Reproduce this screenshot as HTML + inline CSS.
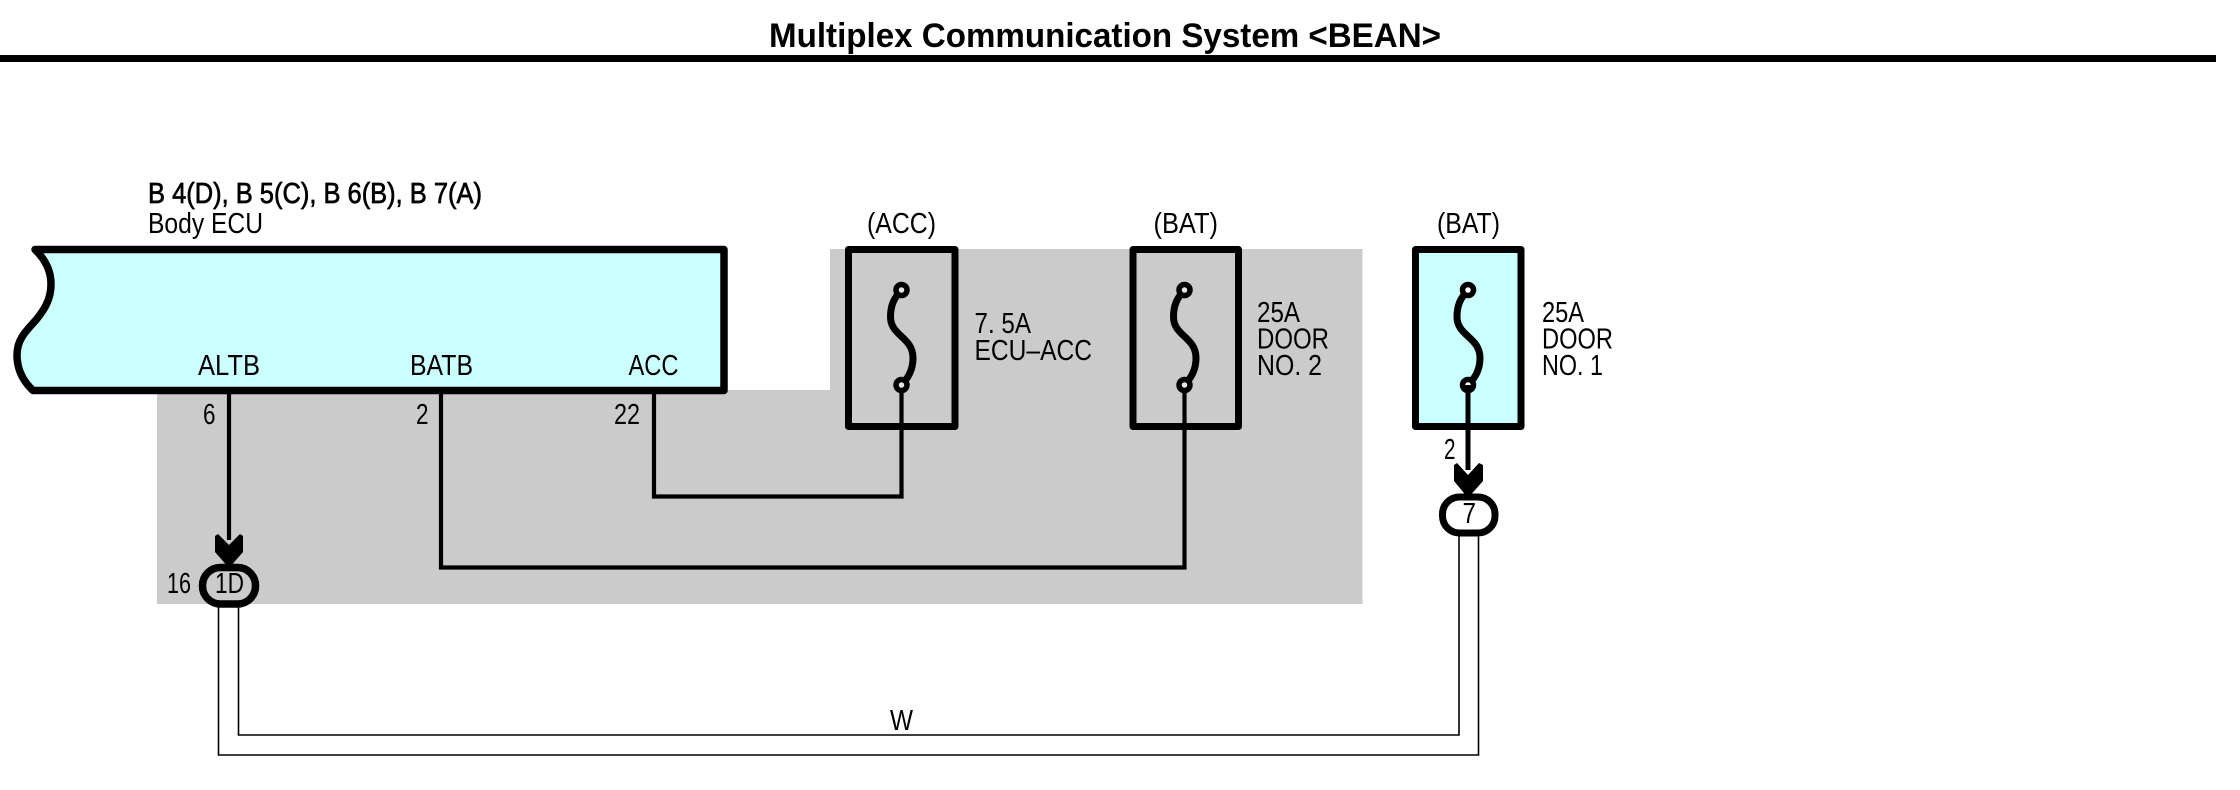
<!DOCTYPE html>
<html><head><meta charset="utf-8"><style>
html,body{margin:0;padding:0;background:#fff;width:2240px;height:790px;overflow:hidden}
svg{display:block}
text{font-family:"Liberation Sans",sans-serif;font-size:29px;fill:#000}
</style></head><body>
<svg width="2240" height="790" viewBox="0 0 2240 790" xmlns="http://www.w3.org/2000/svg">
<rect width="2240" height="790" fill="#fff"/>
<rect x="0" y="55" width="2216" height="7" fill="#000"/>
<text x="769" y="47" style="font-size:34px;font-weight:bold" textLength="672" lengthAdjust="spacingAndGlyphs">Multiplex Communication System &lt;BEAN&gt;</text>

<polygon points="157,390 830,390 830,249 1362.500,249 1362.500,604 157,604" fill="#cbcbcb"/>

<!-- double wire -->
<path d="M238.500 600V735H1459V530M218.500 600V755H1478.500V530" fill="none" stroke="#000" stroke-width="1.600"/>

<!-- ECU -->
<path d="M35 249.500Q51 265 51 284C51 300 44 310 36 320C25 332 17 340 17 355C17 370 24 382 33 390.500H724V249.500Z" fill="#ccffff" stroke="#000" stroke-width="7.500" stroke-linejoin="round"/>

<!-- wires -->
<g fill="none" stroke="#000" stroke-width="4.200">
<path d="M229 392V540"/>
<path d="M441 392V567.500H1184.500V385"/>
<path d="M654 392V496.500H901.500V385"/>
</g>

<!-- fuse boxes -->
<rect x="848.500" y="249.500" width="106.500" height="177" fill="none" stroke="#000" stroke-width="7" stroke-linejoin="round"/>
<rect x="1133" y="249.500" width="105.500" height="177" fill="none" stroke="#000" stroke-width="7" stroke-linejoin="round"/>
<rect x="1415.500" y="249.500" width="105.500" height="177" fill="#ccffff" stroke="#000" stroke-width="7" stroke-linejoin="round"/>

<!-- fuse symbols -->
<g fill="none" stroke="#000" stroke-width="7">
<path d="M901.500 290C894 298 890.500 305 890.500 317C890.500 336 913 337 913 358C913 370 908 378 901.500 385"/>
<path d="M1184.500 290C1177 298 1173.500 305 1173.500 317C1173.500 336 1196 337 1196 358C1196 370 1191 378 1184.500 385"/>
<path d="M1468 290C1460.500 298 1457 305 1457 317C1457 336 1480 337 1480 358C1480 370 1475 378 1468 385"/>
</g>
<g stroke="#000" stroke-width="5.500">
<circle cx="901.500" cy="290" r="5.500" fill="#e6e6e6"/>
<circle cx="901.500" cy="385" r="5.500" fill="#e6e6e6"/>
<circle cx="1184.500" cy="290" r="5.500" fill="#e6e6e6"/>
<circle cx="1184.500" cy="385" r="5.500" fill="#e6e6e6"/>
<circle cx="1468" cy="290" r="5.500" fill="#fff"/>
<circle cx="1468" cy="385" r="5.500" fill="#fff"/>
</g>
<path d="M1468 385V470" stroke="#000" stroke-width="5"/>

<!-- arrows -->
<polygon points="215,536 218,534 229,545 240,534 243,536 243,552 229,568 215,552" fill="#000"/>
<polygon points="1454,465 1457,463 1468,475 1479,463 1483,465 1483,481 1468,498 1454,481" fill="#000"/>

<!-- connectors -->
<rect x="202.500" y="567.500" width="53" height="36.500" rx="18" fill="#cbcbcb" stroke="#000" stroke-width="7.500"/>
<rect x="1442.500" y="497" width="52.500" height="36" rx="17" fill="#fff" stroke="#000" stroke-width="7"/>

<!-- labels -->
<text x="148" y="203" textLength="334" lengthAdjust="spacingAndGlyphs" stroke="#000" stroke-width="0.700">B 4(D), B 5(C), B 6(B), B 7(A)</text>
<text x="148" y="233" textLength="115" lengthAdjust="spacingAndGlyphs">Body ECU</text>
<text x="198" y="375" textLength="62" lengthAdjust="spacingAndGlyphs">ALTB</text>
<text x="410" y="375" textLength="63" lengthAdjust="spacingAndGlyphs">BATB</text>
<text x="628.500" y="375" textLength="50" lengthAdjust="spacingAndGlyphs">ACC</text>
<text x="203" y="424" textLength="12.500" lengthAdjust="spacingAndGlyphs">6</text>
<text x="416" y="424" textLength="12.500" lengthAdjust="spacingAndGlyphs">2</text>
<text x="614" y="424" textLength="26" lengthAdjust="spacingAndGlyphs">22</text>
<text x="167" y="593" textLength="24" lengthAdjust="spacingAndGlyphs">16</text>
<text x="215" y="593" textLength="29" lengthAdjust="spacingAndGlyphs">1D</text>
<text x="890" y="730" textLength="23" lengthAdjust="spacingAndGlyphs">W</text>
<text x="867" y="233" textLength="69" lengthAdjust="spacingAndGlyphs">(ACC)</text>
<text x="1153.500" y="233" textLength="64.500" lengthAdjust="spacingAndGlyphs">(BAT)</text>
<text x="1437" y="233" textLength="63" lengthAdjust="spacingAndGlyphs">(BAT)</text>
<text x="974.500" y="333" textLength="56.500" lengthAdjust="spacingAndGlyphs">7. 5A</text>
<text x="974.500" y="360" textLength="117.500" lengthAdjust="spacingAndGlyphs">ECU–ACC</text>
<text x="1257" y="322" textLength="43" lengthAdjust="spacingAndGlyphs">25A</text>
<text x="1257" y="348.500" textLength="72" lengthAdjust="spacingAndGlyphs">DOOR</text>
<text x="1257" y="375" textLength="65" lengthAdjust="spacingAndGlyphs">NO. 2</text>
<text x="1542" y="322" textLength="42" lengthAdjust="spacingAndGlyphs">25A</text>
<text x="1542" y="348.500" textLength="71" lengthAdjust="spacingAndGlyphs">DOOR</text>
<text x="1542" y="375" textLength="61" lengthAdjust="spacingAndGlyphs">NO. 1</text>
<text x="1444" y="459" textLength="11.500" lengthAdjust="spacingAndGlyphs">2</text>
<text x="1462.500" y="523" textLength="13.500" lengthAdjust="spacingAndGlyphs">7</text>
</svg>
</body></html>
